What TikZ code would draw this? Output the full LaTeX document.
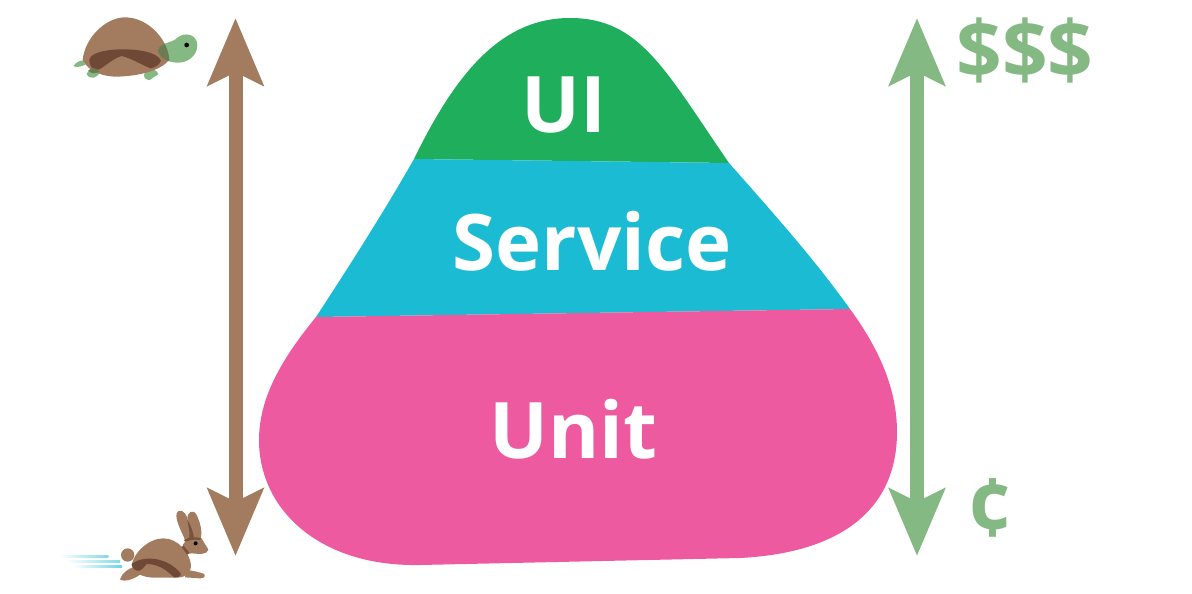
\documentclass[tikz,border=0pt]{standalone}
\usepackage{fontspec}
\setmainfont{Open Sans}
\usetikzlibrary{arrows.meta}
\definecolor{uigreen}{HTML}{1EAE5C}
\definecolor{svccyan}{HTML}{1BBCD3}
\definecolor{unitpink}{HTML}{EE5A9F}
\definecolor{slowbrown}{HTML}{A37B5F}
\definecolor{darkbrown}{HTML}{6F4836}
\definecolor{costgreen}{HTML}{85B983}
\definecolor{overlapgreen}{HTML}{6E7A52}
\tikzset{
  layerlabel/.style={inner sep=0pt,anchor=base,text=white,font=\fontsize{78}{78}\selectfont\bfseries},
  costlabel/.style={inner sep=0pt,anchor=base,text=costgreen,font=\fontsize{80}{80}\selectfont\bfseries},
  bigarrow/.style={line width=14pt,{Stealth[length=67pt,width=55pt,inset=13pt]}-{Stealth[length=67pt,width=55pt,inset=13pt]}},
  zoomed/.style={x=0.33333pt,y=-0.33333pt}
}
\begin{document}
\begin{tikzpicture}[x=1pt,y=-1pt]
\useasboundingbox (0,0) rectangle (1192,594);
% pyramid layers
\fill[uigreen] (414,159) .. controls (455,75) and (500,18) .. (570,18)
  .. controls (640,18) and (665,70) .. (729,163) -- cycle;
\fill[svccyan] (414,159) -- (729,163) .. controls (775,215) and (815,260) .. (850,309)
  -- (316,317) .. controls (350,265) and (385,210) .. (414,159) -- cycle;
\fill[unitpink] (316,317) -- (850,309) .. controls (880,350) and (897,390) .. (897,432)
  .. controls (897,510) and (840,553) .. (740,558) -- (420,565)
  .. controls (320,567) and (259,510) .. (259,440)
  .. controls (259,395) and (285,355) .. (316,317) -- cycle;
\node[layerlabel] (ui) at (564,132) {UI};
\node[layerlabel] (service) at (592,270) {Service};
\node[layerlabel] (unit) at (573,458) {Unit};
% arrows
\coordinate (speedtop) at (235.5,18);
\coordinate (speedbot) at (235.5,556);
\coordinate (costtop) at (917,18);
\coordinate (costbot) at (917,556);
\draw[bigarrow,slowbrown] (speedtop) -- (speedbot);
\draw[bigarrow,costgreen] (costtop) -- (costbot);
\node[costlabel] (dollars) at (1025,78) {\$\$\$};
\node[costlabel] (cents) at (990,536) {¢};
% turtle
\begin{scope}[shift={(60,0)},zoomed]
  \fill[costgreen] (40,198) .. controls (50,185) and (62,180) .. (72,182) -- (75,195) .. controls (60,200) and (50,203) .. (40,198) -- cycle;
  \fill[costgreen] (80,222) .. controls (85,205) and (105,200) .. (118,220) .. controls (112,232) and (90,242) .. (80,222) -- cycle;
  \fill[costgreen] (252,225) .. controls (255,205) and (285,200) .. (295,222) .. controls (285,232) and (275,232) .. (270,240) .. controls (258,240) and (252,235) .. (252,225) -- cycle;
  \fill[slowbrown] (68,180) .. controls (75,110) and (140,52) .. (195,52)
     .. controls (265,52) and (325,120) .. (328,180)
     .. controls (300,212) and (240,228) .. (170,230)
     .. controls (130,230) and (85,215) .. (68,180) -- cycle;
  \fill[costgreen] (293,150) .. controls (305,125) and (335,130) .. (350,115)
     .. controls (375,92) and (412,105) .. (412,135)
     .. controls (412,170) and (380,188) .. (355,188)
     .. controls (325,188) and (297,175) .. (293,150) -- cycle;
  \begin{scope}
    \clip (68,180) .. controls (75,110) and (140,52) .. (195,52)
     .. controls (265,52) and (325,120) .. (328,180)
     .. controls (300,212) and (240,228) .. (170,230)
     .. controls (130,230) and (85,215) .. (68,180) -- cycle;
    \fill[overlapgreen] (293,150) .. controls (305,125) and (335,130) .. (350,115)
     .. controls (375,92) and (412,105) .. (412,135)
     .. controls (412,170) and (380,188) .. (355,188)
     .. controls (325,188) and (297,175) .. (293,150) -- cycle;
  \end{scope}
  \fill[darkbrown] (88,178) .. controls (95,155) and (150,148) .. (185,148)
     .. controls (235,148) and (290,155) .. (303,182)
     .. controls (298,195) and (285,203) .. (272,205)
     .. controls (245,195) and (215,175) .. (185,168)
     .. controls (160,175) and (140,195) .. (118,208)
     .. controls (100,215) and (88,200) .. (88,178) -- cycle;
  \fill[overlapgreen] (85,212) .. controls (95,200) and (108,203) .. (118,214) .. controls (105,222) and (95,222) .. (85,212) -- cycle;
  \fill[black] (380,135) circle[radius=7];
\end{scope}
% rabbit
\begin{scope}[shift={(50,490)},zoomed]
  \shade[left color=white,right color=svccyan!55] (30,196) rectangle (175,202);
  \shade[left color=white,right color=svccyan!55] (50,210) rectangle (210,216);
  \shade[left color=white,right color=svccyan!65] (70,225) rectangle (216,231);
  \fill[slowbrown] (233,195) circle[radius=20];
  \fill[slowbrown] (210,268) .. controls (215,250) and (235,235) .. (255,230)
     -- (280,245) .. controls (265,262) and (225,280) .. (210,268) -- cycle;
  \fill[slowbrown] (410,240) .. controls (430,242) and (450,247) .. (463,252)
     .. controls (467,262) and (460,265) .. (450,265) -- (405,262) -- cycle;
  \fill[slowbrown] (405,150) .. controls (395,125) and (375,90) .. (380,70)
     .. controls (385,55) and (405,60) .. (412,85) .. controls (418,105) and (420,130) .. (420,150) -- cycle;
  \fill[slowbrown] (412,90) .. controls (410,65) and (430,55) .. (440,75)
     .. controls (450,95) and (458,125) .. (452,145) -- (425,150) -- cycle;
  \fill[darkbrown!80!slowbrown] (412,90) .. controls (416,110) and (420,130) .. (418,148) -- (432,146) .. controls (430,125) and (422,105) .. (412,90) -- cycle;
  \fill[slowbrown] (245,225) .. controls (250,190) and (295,145) .. (340,145)
     .. controls (385,145) and (420,190) .. (423,225)
     .. controls (423,250) and (405,263) .. (380,263)
     -- (310,263) .. controls (280,262) and (250,250) .. (245,225) -- cycle;
  \fill[slowbrown] (398,165) .. controls (410,145) and (440,135) .. (455,145)
     .. controls (462,160) and (472,170) .. (475,180)
     .. controls (470,195) and (445,192) .. (425,190) -- (412,192) -- cycle;
  \fill[darkbrown!80!slowbrown] (395,172) -- (400,166) -- (418,188) -- (412,194) -- cycle;
  \fill[darkbrown!80!slowbrown] (402,150) .. controls (420,140) and (440,140) .. (452,145) -- (450,150) .. controls (435,147) and (420,150) .. (405,155) -- cycle;
  \fill[darkbrown] (245,222) .. controls (280,195) and (350,200) .. (392,250)
     .. controls (395,258) and (385,263) .. (372,262)
     .. controls (350,240) and (325,222) .. (290,222)
     .. controls (280,232) and (275,245) .. (260,242)
     .. controls (250,238) and (245,230) .. (245,222) -- cycle;
  \fill[black] (437,160) circle[radius=6];
\end{scope}
\end{tikzpicture}
\end{document}
